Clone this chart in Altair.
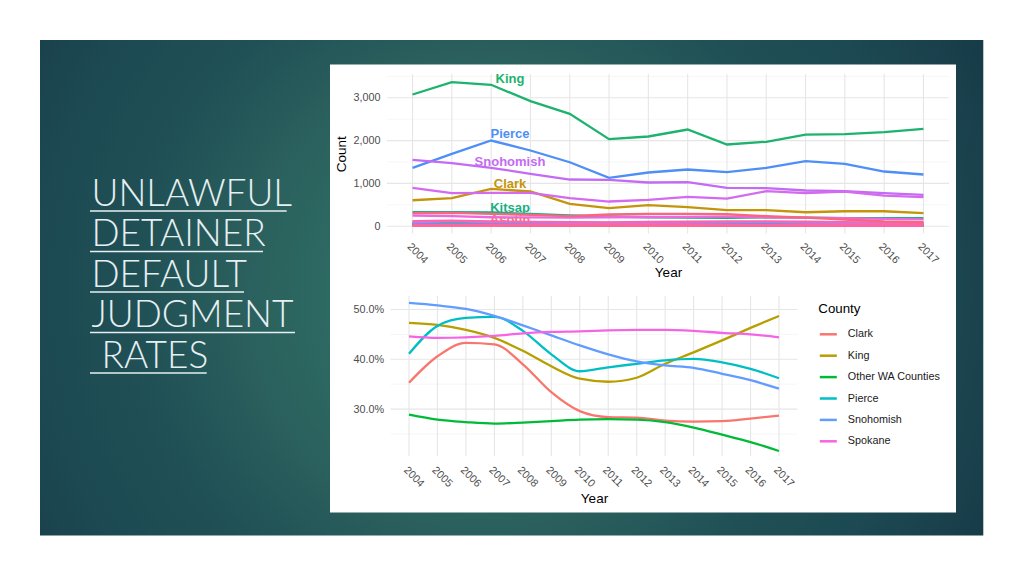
import altair as alt
import pandas as pd

FONT = "Liberation Sans"

YEARS = list(range(2004, 2018))

# ---------------- top chart: counts per county (alphabetical draw order) ----------------
ADAMS = [22, 25, 24, 20, 18, 20, 22, 21, 19, 18, 20, 17, 15, 16]
ASOTIN = [12, 14, 13, 11, 10, 12, 13, 12, 11, 10, 9, 10, 8, 9]
BENTON = [70, 75, 72, 65, 60, 62, 66, 70, 68, 64, 60, 55, 52, 50]
CHELAN = [28, 30, 26, 25, 24, 22, 25, 27, 26, 24, 22, 20, 19, 18]
CLALLAM = [40, 42, 38, 36, 35, 38, 40, 42, 40, 37, 35, 33, 30, 28]
CLARK = [607, 654, 873, 811, 523, 421, 491, 444, 374, 374, 327, 350, 350, 304]
COWLITZ = [85, 90, 88, 80, 75, 78, 82, 85, 80, 76, 72, 68, 62, 60]
FRANKLIN = [38, 40, 36, 34, 32, 35, 38, 36, 34, 32, 30, 28, 26, 25]
GRANT = [48, 50, 46, 44, 42, 45, 48, 50, 47, 44, 40, 38, 35, 34]
GRAYS_HARBOR = [55, 58, 54, 50, 48, 52, 56, 55, 52, 50, 46, 42, 40, 38]
ISLAND = [30, 32, 30, 28, 27, 29, 31, 30, 28, 27, 25, 24, 22, 21]
KING = [3077, 3364, 3304, 2921, 2626, 2033, 2096, 2259, 1909, 1972, 2142, 2150, 2196, 2276]
KITSAP = [327, 327, 320, 290, 250, 227, 210, 200, 195, 205, 200, 190, 190, 187]
LEWIS = [50, 52, 48, 46, 44, 47, 50, 48, 46, 44, 42, 40, 37, 36]
MASON = [55, 57, 53, 50, 47, 50, 54, 52, 50, 47, 44, 41, 38, 37]
PIERCE = [1364, 1692, 2002, 1769, 1495, 1131, 1255, 1325, 1262, 1364, 1519, 1458, 1278, 1208]
SKAGIT = [93, 117, 95, 85, 80, 75, 80, 85, 90, 95, 85, 80, 75, 70]
SNOHOMISH = [1551, 1472, 1364, 1224, 1091, 1084, 1021, 1028, 897, 888, 834, 818, 771, 734]
SPOKANE = [897, 771, 780, 780, 654, 577, 617, 687, 647, 818, 771, 811, 717, 678]
THURSTON = [250, 234, 210, 205, 200, 210, 215, 220, 225, 210, 200, 190, 170, 160]
WALLA_WALLA = [35, 38, 34, 32, 30, 33, 36, 34, 32, 30, 28, 27, 25, 24]
WHATCOM = [120, 130, 110, 100, 95, 90, 100, 105, 110, 115, 105, 95, 85, 80]
WHITMAN = [15, 16, 14, 13, 12, 14, 15, 14, 13, 12, 11, 10, 10, 9]
YAKIMA = [305, 310, 290, 267, 235, 274, 290, 290, 280, 234, 203, 157, 110, 93]

TOP_SERIES = {
    "Adams": ADAMS, "Asotin": ASOTIN, "Benton": BENTON, "Chelan": CHELAN,
    "Clallam": CLALLAM, "Clark": CLARK, "Cowlitz": COWLITZ, "Franklin": FRANKLIN,
    "Grant": GRANT, "Grays Harbor": GRAYS_HARBOR, "Island": ISLAND, "King": KING,
    "Kitsap": KITSAP, "Lewis": LEWIS, "Mason": MASON, "Pierce": PIERCE,
    "Skagit": SKAGIT, "Snohomish": SNOHOMISH, "Spokane": SPOKANE,
    "Thurston": THURSTON, "Walla Walla": WALLA_WALLA, "Whatcom": WHATCOM,
    "Whitman": WHITMAN, "Yakima": YAKIMA,
}
TOP_COUNTIES = list(TOP_SERIES.keys())
TOP_COLORS = [
    "#F8766D", "#EF7B4E", "#E7861B", "#DF8B00", "#D49300", "#C4940A", "#AFA100",
    "#79AF00", "#3CB600", "#00BA38", "#00BC57", "#1DB26E", "#17B083", "#00BDCE",
    "#00B5EC", "#4D8FF6", "#9C8DFF", "#C46BF5", "#D36AF0", "#EC68DF", "#FB61C1",
    "#FF62AE", "#FF659B", "#F8677F",
]

# direct labels of the top chart
LABEL_NAMES = ["King", "Pierce", "Snohomish", "Clark", "Kitsap", "Asotin"]
LABEL_YEARS = [2006.48] * 6
LABEL_COUNTS = [3428, 2143, 1495, 981, 420, 150]

TOP_Y_MAJOR = [0, 1000, 2000, 3000]
TOP_Y_MINOR = [500, 1500, 2500, 3500]

# ---------------- bottom chart: default judgment rate (%) ----------------
BOT_COUNTIES = ["Clark", "King", "Other WA Counties", "Pierce", "Snohomish", "Spokane"]
BOT_COLORS = ["#F8766D", "#B79F00", "#00BA38", "#00BFC4", "#619CFF", "#F564E3"]
CLARK_RATE = [35.3, 40.6, 43.3, 43.0, 39.0, 33.4, 29.6, 28.4, 28.3, 27.7, 27.5, 27.6, 28.1, 28.7]
KING_RATE = [47.3, 46.9, 45.9, 44.3, 41.7, 38.6, 36.1, 35.5, 36.3, 39.1, 41.4, 43.8, 46.3, 48.7]
OTHER_RATE = [28.9, 27.9, 27.4, 27.1, 27.3, 27.6, 27.9, 28.0, 27.9, 27.4, 26.3, 24.9, 23.4, 21.6]
PIERCE_RATE = [41.1, 46.7, 48.3, 48.5, 45.7, 41.0, 37.6, 38.4, 39.1, 39.8, 40.1, 39.4, 38.1, 36.2]
SNOHOMISH_RATE = [51.3, 50.8, 50.1, 48.7, 46.8, 44.8, 42.8, 41.0, 39.6, 38.8, 38.3, 37.1, 35.8, 34.1]
SPOKANE_RATE = [44.6, 44.3, 44.4, 44.7, 45.2, 45.5, 45.6, 45.8, 45.9, 45.9, 45.7, 45.3, 45.0, 44.4]
BOT_SERIES = [CLARK_RATE, KING_RATE, OTHER_RATE, PIERCE_RATE, SNOHOMISH_RATE, SPOKANE_RATE]

BOT_Y_MAJOR = [30, 40, 50]
BOT_Y_MINOR = [25, 35, 45]

TITLE_LINES = ["UNLAWFUL", "DETAINER", "DEFAULT", "JUDGMENT", " RATES"]

# ---------------- layout constants (page pixels) ----------------
OX, OY = 387.0, 73.5          # top plot origin on the page
W_TOP, H_TOP = 562, 159.5
W_BOT, H_BOT = 410.5, 160


def px(x):
    return x - OX


def py(y):
    return y - OY


def one():
    return pd.DataFrame({"k": [0]})


top_df = pd.DataFrame(
    [{"County": c, "Year": y, "Count": v} for c in TOP_COUNTIES for y, v in zip(YEARS, TOP_SERIES[c])]
)
label_df = pd.DataFrame({"County": LABEL_NAMES, "Year": LABEL_YEARS, "Count": LABEL_COUNTS})
bot_df = pd.DataFrame(
    [{"County": c, "Year": y, "Rate": v} for c, s in zip(BOT_COUNTIES, BOT_SERIES) for y, v in zip(YEARS, s)]
)

AX = dict(domain=False, ticks=False, grid=False, labelFont=FONT, labelFontSize=10.8,
          labelColor="#4d4d4d", titleFont=FONT, titleFontSize=13.5, titleColor="#000000",
          titleFontWeight="normal", labelOverlap=False, labelFlush=False)

x_top = alt.X("Year:Q", scale=alt.Scale(domain=[2003.35, 2017.65], nice=False, zero=False),
              axis=alt.Axis(values=YEARS, format="d", labelAngle=45, labelAlign="left",
                            labelBaseline="top", labelPadding=7, title="Year", titlePadding=0,
                            zindex=1, **AX))
y_top = alt.Y("Count:Q", scale=alt.Scale(domain=[-170, 3556], nice=False, zero=False),
              axis=alt.Axis(values=TOP_Y_MAJOR, format=",d", labelPadding=7, title="Count",
                            titlePadding=4, zindex=1, **AX))
color_top = alt.Color("County:N", scale=alt.Scale(domain=TOP_COUNTIES, range=TOP_COLORS), legend=None)

GRADIENT = {
    "gradient": "radial",
    "x1": 0.467, "y1": 0.506, "r1": 0,
    "x2": 0.467, "y2": 0.506, "r2": 0.594,
    "stops": [
        {"offset": 0.0, "color": "#317169"},
        {"offset": 0.27, "color": "#2d6a62"},
        {"offset": 0.43, "color": "#2a5f5d"},
        {"offset": 0.60, "color": "#205156"},
        {"offset": 0.79, "color": "#1c4952"},
        {"offset": 0.90, "color": "#1a424d"},
        {"offset": 1.0, "color": "#173b48"},
    ],
}

page_rect = alt.Chart(one()).mark_rect(fill="#ffffff").encode(
    x=alt.value(px(8)), x2=alt.value(px(990)), y=alt.value(py(8)), y2=alt.value(py(540)))
panel_rect = alt.Chart(one()).mark_rect(fill=GRADIENT).encode(
    x=alt.value(px(40)), x2=alt.value(px(983.3)), y=alt.value(py(39.5)), y2=alt.value(py(535)))
image_rect = alt.Chart(one()).mark_rect(fill="#ffffff").encode(
    x=alt.value(px(330)), x2=alt.value(px(956)), y=alt.value(py(64)), y2=alt.value(py(512)))

TEXT_COLOR = "#e6eff1"
TITLE_STYLE = dict(align="left", baseline="alphabetic", font="Lato", fontSize=37, fontWeight=300,
                   color=TEXT_COLOR)
title_marks = []
for i, line in enumerate(TITLE_LINES):
    # a line written with a leading space is drawn shifted by one space width
    lead = 10 if line.startswith(" ") else 0
    title_marks.append(
        alt.Chart(one()).mark_text(**TITLE_STYLE).encode(
            x=alt.value(px(91.5 + lead)), y=alt.value(py(205 + i * 40.5)), text=alt.value(line.strip()))
    )

underlines = []
for end_x, uy in [(286.7, 210.5), (263, 251), (244, 291.5), (295, 332), (206.7, 372.5)]:
    underlines.append(
        alt.Chart(one()).mark_rule(color=TEXT_COLOR, strokeWidth=1.6).encode(
            x=alt.value(px(90)), x2=alt.value(px(end_x)), y=alt.value(py(uy)))
    )

top_minor = alt.Chart(pd.DataFrame({"Count": TOP_Y_MINOR})).mark_rule(color="#f2f2f2", strokeWidth=0.7).encode(
    y=y_top, x=alt.value(0), x2=alt.value(W_TOP))
top_major = alt.Chart(pd.DataFrame({"Count": TOP_Y_MAJOR})).mark_rule(color="#e6e6e6", strokeWidth=1.1).encode(
    y=y_top, x=alt.value(0), x2=alt.value(W_TOP))
top_vgrid = alt.Chart(pd.DataFrame({"Year": YEARS})).mark_rule(color="#e6e6e6", strokeWidth=1.1).encode(
    x=x_top, y=alt.value(0), y2=alt.value(H_TOP))

top_labels = alt.Chart(label_df).mark_text(
    font=FONT, fontSize=13, fontWeight="bold", align="center", baseline="middle"
).encode(x=x_top, y=y_top, text="County:N", color=color_top)

top_lines = alt.Chart(top_df).mark_line(strokeWidth=2.3).encode(
    x=x_top, y=y_top, color=color_top)

top = alt.layer(
    page_rect, panel_rect, image_rect, *title_marks, *underlines,
    top_minor, top_major, top_vgrid, top_labels, top_lines,
).properties(width=W_TOP, height=H_TOP)

# ---------------- bottom chart ----------------
x_bot = alt.X("Year:Q", scale=alt.Scale(domain=[2003.227, 2017.65], nice=False, zero=False),
              axis=alt.Axis(values=YEARS, format="d", labelAngle=45, labelAlign="left",
                            labelBaseline="top", labelPadding=8, title="Year", titlePadding=3,
                            titleX=207, **AX))
y_bot = alt.Y("Rate:Q", scale=alt.Scale(domain=[20.6, 52.7], nice=False, zero=False),
              axis=alt.Axis(values=BOT_Y_MAJOR, labelExpr="format(datum.value, '.1f') + '%'",
                            labelPadding=3.5, title=None, **AX))

bot_minor = alt.Chart(pd.DataFrame({"Rate": BOT_Y_MINOR})).mark_rule(color="#f2f2f2", strokeWidth=0.7).encode(
    y=y_bot, x=alt.value(3.5), x2=alt.value(W_BOT))
bot_major = alt.Chart(pd.DataFrame({"Rate": BOT_Y_MAJOR})).mark_rule(color="#e6e6e6", strokeWidth=1.1).encode(
    y=y_bot, x=alt.value(3.5), x2=alt.value(W_BOT))
bot_vgrid = alt.Chart(pd.DataFrame({"Year": YEARS})).mark_rule(color="#e6e6e6", strokeWidth=1.1).encode(
    x=x_bot, y=alt.value(0), y2=alt.value(H_BOT))

bot_lines = alt.Chart(bot_df).mark_line(strokeWidth=2.3, interpolate="monotone").encode(
    x=x_bot, y=y_bot,
    color=alt.Color("County:N", scale=alt.Scale(domain=BOT_COUNTIES, range=BOT_COLORS),
                    legend=alt.Legend(title="County", orient="none", legendX=431.3, legendY=6,
                                      symbolType="stroke", symbolSize=289, symbolStrokeWidth=2.5,
                                      labelFont=FONT, labelFontSize=10.8, labelColor="#1a1a1a",
                                      titleFont=FONT, titleFontSize=13.3, titleFontWeight="normal",
                                      titleColor="#000000", rowPadding=6.4, titlePadding=9,
                                      labelOffset=9.5, padding=0)),
)

bottom = alt.layer(bot_minor, bot_major, bot_vgrid, bot_lines).properties(width=W_BOT, height=H_BOT)

chart = alt.vconcat(top, bottom, spacing=62, bounds="flush").resolve_scale(
    x="independent", y="independent", color="independent"
).resolve_legend(color="independent").properties(padding=0).configure_view(strokeWidth=0)

chart.save("out.html", embed_options={"renderer": "svg", "actions": False})
